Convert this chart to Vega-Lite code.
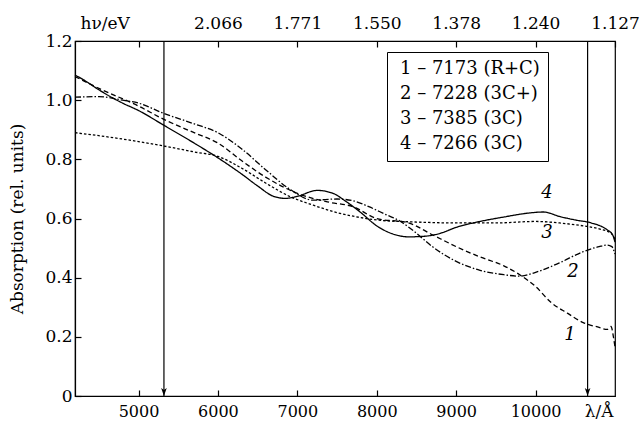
{
  "$schema": "https://vega.github.io/schema/vega-lite/v6.json",
  "width": 540,
  "height": 355,
  "autosize": "none",
  "padding": {"left": 75, "top": 41, "right": 25, "bottom": 25},
  "background": "white",
  "config": {
    "font": "DejaVu Serif",
    "view": {"stroke": "black", "strokeWidth": 1.2},
    "axis": {
      "labelFont": "DejaVu Serif",
      "titleFont": "DejaVu Serif",
      "labelFontSize": 17,
      "titleFontSize": 17,
      "labelFontWeight": "normal",
      "labelColor": "black",
      "titleColor": "black",
      "domainColor": "black",
      "tickColor": "black",
      "grid": false,
      "titleFontWeight": "normal",
      "tickSize": -6,
      "domainWidth": 1.2,
      "tickWidth": 1.2
    },
    "legend": {
      "labelFont": "DejaVu Serif",
      "labelFontSize": 18,
      "labelColor": "black"
    }
  },
  "datasets": {
    "curves": [
      {"curve": "1 – 7173 (R+C)", "wavelength": 4200, "absorption": 1.08},
      {"curve": "1 – 7173 (R+C)", "wavelength": 4500, "absorption": 1.04},
      {"curve": "1 – 7173 (R+C)", "wavelength": 5000, "absorption": 0.98},
      {"curve": "1 – 7173 (R+C)", "wavelength": 5320, "absorption": 0.935},
      {"curve": "1 – 7173 (R+C)", "wavelength": 5700, "absorption": 0.89},
      {"curve": "1 – 7173 (R+C)", "wavelength": 6000, "absorption": 0.855},
      {"curve": "1 – 7173 (R+C)", "wavelength": 6300, "absorption": 0.795},
      {"curve": "1 – 7173 (R+C)", "wavelength": 6600, "absorption": 0.74},
      {"curve": "1 – 7173 (R+C)", "wavelength": 7000, "absorption": 0.685},
      {"curve": "1 – 7173 (R+C)", "wavelength": 7400, "absorption": 0.655},
      {"curve": "1 – 7173 (R+C)", "wavelength": 7700, "absorption": 0.64},
      {"curve": "1 – 7173 (R+C)", "wavelength": 8000, "absorption": 0.6},
      {"curve": "1 – 7173 (R+C)", "wavelength": 8400, "absorption": 0.585},
      {"curve": "1 – 7173 (R+C)", "wavelength": 8700, "absorption": 0.545},
      {"curve": "1 – 7173 (R+C)", "wavelength": 9000, "absorption": 0.505},
      {"curve": "1 – 7173 (R+C)", "wavelength": 9300, "absorption": 0.47},
      {"curve": "1 – 7173 (R+C)", "wavelength": 9600, "absorption": 0.44},
      {"curve": "1 – 7173 (R+C)", "wavelength": 9800, "absorption": 0.41},
      {"curve": "1 – 7173 (R+C)", "wavelength": 10000, "absorption": 0.37},
      {"curve": "1 – 7173 (R+C)", "wavelength": 10200, "absorption": 0.315},
      {"curve": "1 – 7173 (R+C)", "wavelength": 10400, "absorption": 0.28},
      {"curve": "1 – 7173 (R+C)", "wavelength": 10600, "absorption": 0.248},
      {"curve": "1 – 7173 (R+C)", "wavelength": 10800, "absorption": 0.232},
      {"curve": "1 – 7173 (R+C)", "wavelength": 10900, "absorption": 0.225},
      {"curve": "1 – 7173 (R+C)", "wavelength": 10950, "absorption": 0.235},
      {"curve": "1 – 7173 (R+C)", "wavelength": 10980, "absorption": 0.2},
      {"curve": "1 – 7173 (R+C)", "wavelength": 11000, "absorption": 0.165},

      {"curve": "2 – 7228 (3C+)", "wavelength": 4200, "absorption": 1.01},
      {"curve": "2 – 7228 (3C+)", "wavelength": 4500, "absorption": 1.012},
      {"curve": "2 – 7228 (3C+)", "wavelength": 4800, "absorption": 1.0},
      {"curve": "2 – 7228 (3C+)", "wavelength": 5000, "absorption": 0.99},
      {"curve": "2 – 7228 (3C+)", "wavelength": 5320, "absorption": 0.955},
      {"curve": "2 – 7228 (3C+)", "wavelength": 5700, "absorption": 0.92},
      {"curve": "2 – 7228 (3C+)", "wavelength": 6000, "absorption": 0.89},
      {"curve": "2 – 7228 (3C+)", "wavelength": 6300, "absorption": 0.835},
      {"curve": "2 – 7228 (3C+)", "wavelength": 6600, "absorption": 0.765},
      {"curve": "2 – 7228 (3C+)", "wavelength": 6900, "absorption": 0.7},
      {"curve": "2 – 7228 (3C+)", "wavelength": 7200, "absorption": 0.662},
      {"curve": "2 – 7228 (3C+)", "wavelength": 7500, "absorption": 0.666},
      {"curve": "2 – 7228 (3C+)", "wavelength": 7700, "absorption": 0.66},
      {"curve": "2 – 7228 (3C+)", "wavelength": 7900, "absorption": 0.64},
      {"curve": "2 – 7228 (3C+)", "wavelength": 8100, "absorption": 0.615},
      {"curve": "2 – 7228 (3C+)", "wavelength": 8300, "absorption": 0.59},
      {"curve": "2 – 7228 (3C+)", "wavelength": 8500, "absorption": 0.55},
      {"curve": "2 – 7228 (3C+)", "wavelength": 8700, "absorption": 0.505},
      {"curve": "2 – 7228 (3C+)", "wavelength": 9000, "absorption": 0.455},
      {"curve": "2 – 7228 (3C+)", "wavelength": 9300, "absorption": 0.425},
      {"curve": "2 – 7228 (3C+)", "wavelength": 9600, "absorption": 0.41},
      {"curve": "2 – 7228 (3C+)", "wavelength": 9800, "absorption": 0.405},
      {"curve": "2 – 7228 (3C+)", "wavelength": 10000, "absorption": 0.418},
      {"curve": "2 – 7228 (3C+)", "wavelength": 10300, "absorption": 0.45},
      {"curve": "2 – 7228 (3C+)", "wavelength": 10600, "absorption": 0.488},
      {"curve": "2 – 7228 (3C+)", "wavelength": 10800, "absorption": 0.505},
      {"curve": "2 – 7228 (3C+)", "wavelength": 10900, "absorption": 0.51},
      {"curve": "2 – 7228 (3C+)", "wavelength": 10960, "absorption": 0.505},
      {"curve": "2 – 7228 (3C+)", "wavelength": 11000, "absorption": 0.48},

      {"curve": "3 – 7385 (3C)", "wavelength": 4200, "absorption": 0.89},
      {"curve": "3 – 7385 (3C)", "wavelength": 4500, "absorption": 0.88},
      {"curve": "3 – 7385 (3C)", "wavelength": 5000, "absorption": 0.86},
      {"curve": "3 – 7385 (3C)", "wavelength": 5320, "absorption": 0.845},
      {"curve": "3 – 7385 (3C)", "wavelength": 5700, "absorption": 0.825},
      {"curve": "3 – 7385 (3C)", "wavelength": 6000, "absorption": 0.81},
      {"curve": "3 – 7385 (3C)", "wavelength": 6300, "absorption": 0.77},
      {"curve": "3 – 7385 (3C)", "wavelength": 6600, "absorption": 0.72},
      {"curve": "3 – 7385 (3C)", "wavelength": 6900, "absorption": 0.675},
      {"curve": "3 – 7385 (3C)", "wavelength": 7200, "absorption": 0.645},
      {"curve": "3 – 7385 (3C)", "wavelength": 7500, "absorption": 0.62},
      {"curve": "3 – 7385 (3C)", "wavelength": 7800, "absorption": 0.603},
      {"curve": "3 – 7385 (3C)", "wavelength": 8000, "absorption": 0.595},
      {"curve": "3 – 7385 (3C)", "wavelength": 8500, "absorption": 0.588},
      {"curve": "3 – 7385 (3C)", "wavelength": 9000, "absorption": 0.585},
      {"curve": "3 – 7385 (3C)", "wavelength": 9500, "absorption": 0.585},
      {"curve": "3 – 7385 (3C)", "wavelength": 10000, "absorption": 0.59},
      {"curve": "3 – 7385 (3C)", "wavelength": 10300, "absorption": 0.585},
      {"curve": "3 – 7385 (3C)", "wavelength": 10600, "absorption": 0.575},
      {"curve": "3 – 7385 (3C)", "wavelength": 10800, "absorption": 0.565},
      {"curve": "3 – 7385 (3C)", "wavelength": 10950, "absorption": 0.55},
      {"curve": "3 – 7385 (3C)", "wavelength": 11000, "absorption": 0.53},

      {"curve": "4 – 7266 (3C)", "wavelength": 4200, "absorption": 1.085},
      {"curve": "4 – 7266 (3C)", "wavelength": 4300, "absorption": 1.07},
      {"curve": "4 – 7266 (3C)", "wavelength": 4500, "absorption": 1.035},
      {"curve": "4 – 7266 (3C)", "wavelength": 4800, "absorption": 0.99},
      {"curve": "4 – 7266 (3C)", "wavelength": 5000, "absorption": 0.965},
      {"curve": "4 – 7266 (3C)", "wavelength": 5320, "absorption": 0.915},
      {"curve": "4 – 7266 (3C)", "wavelength": 5700, "absorption": 0.855},
      {"curve": "4 – 7266 (3C)", "wavelength": 6000, "absorption": 0.805},
      {"curve": "4 – 7266 (3C)", "wavelength": 6300, "absorption": 0.75},
      {"curve": "4 – 7266 (3C)", "wavelength": 6500, "absorption": 0.71},
      {"curve": "4 – 7266 (3C)", "wavelength": 6700, "absorption": 0.675},
      {"curve": "4 – 7266 (3C)", "wavelength": 6850, "absorption": 0.668},
      {"curve": "4 – 7266 (3C)", "wavelength": 7000, "absorption": 0.675},
      {"curve": "4 – 7266 (3C)", "wavelength": 7250, "absorption": 0.695},
      {"curve": "4 – 7266 (3C)", "wavelength": 7450, "absorption": 0.685},
      {"curve": "4 – 7266 (3C)", "wavelength": 7600, "absorption": 0.66},
      {"curve": "4 – 7266 (3C)", "wavelength": 7800, "absorption": 0.62},
      {"curve": "4 – 7266 (3C)", "wavelength": 8000, "absorption": 0.575},
      {"curve": "4 – 7266 (3C)", "wavelength": 8200, "absorption": 0.548},
      {"curve": "4 – 7266 (3C)", "wavelength": 8400, "absorption": 0.538},
      {"curve": "4 – 7266 (3C)", "wavelength": 8600, "absorption": 0.54},
      {"curve": "4 – 7266 (3C)", "wavelength": 8800, "absorption": 0.55},
      {"curve": "4 – 7266 (3C)", "wavelength": 9000, "absorption": 0.57},
      {"curve": "4 – 7266 (3C)", "wavelength": 9300, "absorption": 0.59},
      {"curve": "4 – 7266 (3C)", "wavelength": 9600, "absorption": 0.605},
      {"curve": "4 – 7266 (3C)", "wavelength": 9900, "absorption": 0.618},
      {"curve": "4 – 7266 (3C)", "wavelength": 10100, "absorption": 0.622},
      {"curve": "4 – 7266 (3C)", "wavelength": 10300, "absorption": 0.607},
      {"curve": "4 – 7266 (3C)", "wavelength": 10500, "absorption": 0.595},
      {"curve": "4 – 7266 (3C)", "wavelength": 10700, "absorption": 0.585},
      {"curve": "4 – 7266 (3C)", "wavelength": 10900, "absorption": 0.562},
      {"curve": "4 – 7266 (3C)", "wavelength": 10970, "absorption": 0.545},
      {"curve": "4 – 7266 (3C)", "wavelength": 11000, "absorption": 0.52}
    ],
    "arrows": [
      {"wavelength": 5320, "absorption": 0},
      {"wavelength": 10655, "absorption": 0}
    ],
    "labels": [
      {"label": "1", "wavelength": 10433, "absorption": 0.206},
      {"label": "2", "wavelength": 10471, "absorption": 0.419},
      {"label": "3", "wavelength": 10144, "absorption": 0.551},
      {"label": "4", "wavelength": 10144, "absorption": 0.686}
    ]
  },
  "layer": [
    {
      "data": {"name": "curves"},
      "mark": {"type": "line", "strokeWidth": 1.3, "color": "black", "interpolate": "monotone"},
      "encoding": {
        "x": {
          "field": "wavelength", "type": "quantitative",
          "scale": {"domain": [4200, 11000], "nice": false, "zero": false},
          "axis": {
            "orient": "bottom",
            "values": [5000, 6000, 7000, 8000, 9000, 10000],
            "labelExpr": "'' + datum.value",
            "labelFontSize": 16,
            "labelPadding": 13,
            "labelFlush": false,
            "title": "λ/Å",
            "titleX": 538,
            "titleY": 20,
            "titleAlign": "right",
            "titleBaseline": "alphabetic",
            "titleAnchor": "end"
          }
        },
        "y": {
          "field": "absorption", "type": "quantitative",
          "scale": {"domain": [0, 1.2], "nice": false},
          "axis": {
            "values": [0, 0.2, 0.4, 0.6, 0.8, 1.0, 1.2],
            "labelExpr": "datum.value == 0 ? '0' : format(datum.value, '.1f')",
            "labelPadding": 9,
            "title": "Absorption (rel. units)",
            "titlePadding": 18
          }
        },
        "strokeDash": {
          "field": "curve", "type": "nominal",
          "scale": {"range": [[5, 3], [6, 2, 1.5, 2], [2.5, 2], [1, 0]]},
          "legend": {
            "orient": "none",
            "legendX": 312,
            "legendY": 11,
            "title": null,
            "strokeColor": "black",
            "padding": 8,
            "symbolSize": 0,
            "symbolOpacity": 0,
            "symbolStrokeWidth": 0,
            "labelOffset": -13,
            "rowPadding": 7,
            "fillColor": "white"
          }
        }
      }
    },
    {
      "data": {"name": "arrows"},
      "mark": {"type": "rule", "color": "black", "strokeWidth": 1.2},
      "encoding": {
        "x": {
          "field": "wavelength", "type": "quantitative",
          "axis": {
            "orient": "top",
            "values": [5000, 6000, 7000, 8000, 9000, 10000, 11000],
            "labelExpr": "datum.value == 5000 ? '' : format(12398.4 / datum.value, '.3f')",
            "labelFlush": false,
            "labelOverlap": false,
            "labelPadding": 15,
            "title": "hν/eV",
            "titleX": 5,
            "titleY": -13,
            "titleAlign": "left",
            "titleBaseline": "alphabetic",
            "titleAnchor": "start"
          }
        }
      }
    },
    {
      "data": {"name": "arrows"},
      "mark": {"type": "point", "shape": "M0,0L-0.35,-1L0,-0.75L0.35,-1Z", "filled": true, "color": "black", "size": 256, "opacity": 1},
      "encoding": {
        "x": {"field": "wavelength", "type": "quantitative", "axis": null},
        "y": {"field": "absorption", "type": "quantitative"}
      }
    },
    {
      "data": {"name": "labels"},
      "mark": {"type": "text", "font": "DejaVu Serif", "fontStyle": "italic", "fontSize": 18, "color": "black"},
      "encoding": {
        "x": {"field": "wavelength", "type": "quantitative", "axis": null},
        "y": {"field": "absorption", "type": "quantitative"},
        "text": {"field": "label"}
      }
    }
  ],
  "resolve": {"axis": {"x": "independent"}}
}
